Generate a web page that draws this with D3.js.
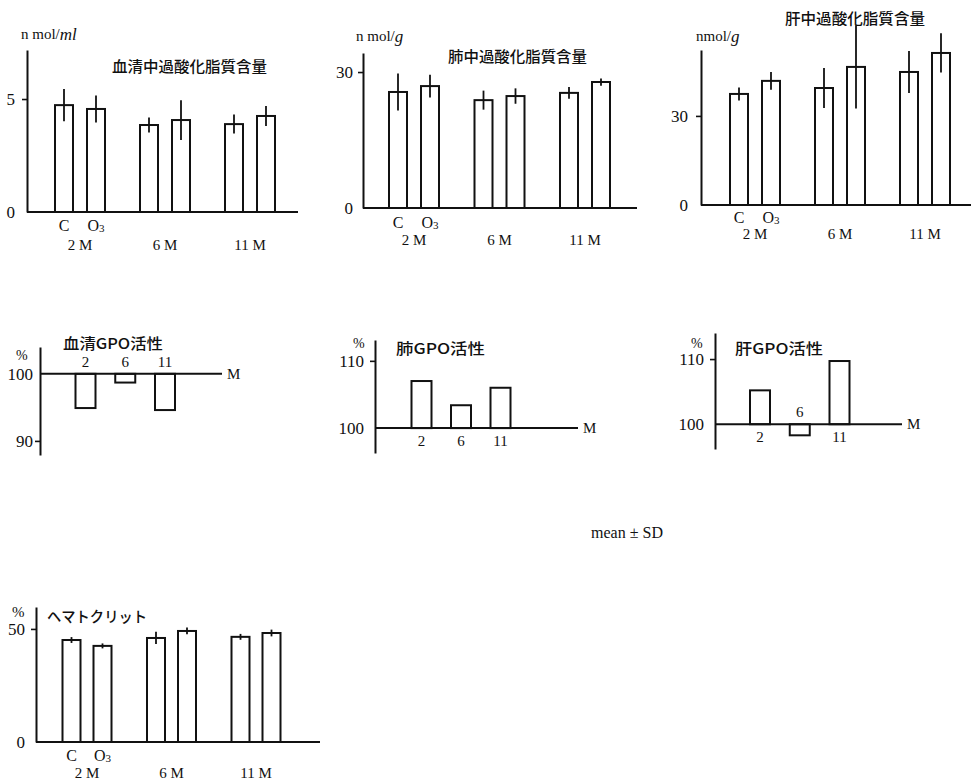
<!DOCTYPE html>
<html>
<head>
<meta charset="utf-8">
<script src="https://cdn.jsdelivr.net/npm/d3@7"></script>
<style>
  body { margin: 0; background: #fff; }
  svg { display: block; }
</style>
</head>
<body>
<svg id="chart" width="971" height="781"></svg>
<script>
// ---- data ---------------------------------------------------------------
const months = ["2 M", "6 M", "11 M"];
const groups = ["C", "O3"];
const gpoMonths = ["2", "6", "11"];

// serum lipid peroxide content (nmol/ml), mean and SD
const serumLpoC = [4.73, 3.85, 3.89];
const serumLpoO3 = [4.56, 4.07, 4.25];
const serumLpoSdC = [0.71, 0.33, 0.42];
const serumLpoSdO3 = [0.60, 0.88, 0.44];
const serumLpoTicks = [0, 5];

// lung lipid peroxide content (nmol/g)
const lungLpoC = [25.6, 23.8, 25.4];
const lungLpoO3 = [26.9, 24.7, 27.8];
const lungLpoSdC = [4.1, 2.1, 1.3];
const lungLpoSdO3 = [2.5, 1.7, 0.8];
const lungLpoTicks = [0, 30];

// liver lipid peroxide content (nmol/g)
const liverLpoC = [37.4, 39.4, 44.8];
const liverLpoO3 = [41.8, 46.5, 51.2];
const liverLpoSdC = [2.2, 6.7, 7.1];
const liverLpoSdO3 = [3.0, 14.0, 6.6];
const liverLpoTicks = [0, 30];

// hematocrit (%)
const hctC = [45.1, 46.0, 46.5];
const hctO3 = [42.5, 49.1, 48.2];
const hctSdC = [1.3, 2.7, 1.3];
const hctSdO3 = [1.1, 1.5, 1.5];
const hctTicks = [0, 50];

// GPO activity, O3 group as % of control
const serumGpo = [94.9, 98.7, 94.6];
const lungGpo = [107.0, 103.4, 106.0];
const liverGpo = [105.2, 98.3, 109.7];
const serumGpoTicks = [90, 100];
const lungGpoTicks = [100, 110];
const liverGpoTicks = [100, 110];

// ---- drawing ------------------------------------------------------------
const LAT = "'Liberation Serif', 'DejaVu Serif', serif";
const JP = "'Noto Sans CJK JP', sans-serif";
const INK = "#111";
const svg = d3.select("#chart");
svg.append("rect").attr("width", 971).attr("height", 781).attr("fill", "#fff");

function label(g, x, y, txt, opts = {}) {
  const t = g.append("text")
    .attr("x", x).attr("y", y)
    .attr("fill", INK)
    .attr("font-family", opts.jp ? JP : LAT)
    .attr("font-size", opts.size || 16)
    .attr("text-anchor", opts.anchor || "middle")
    .attr("dominant-baseline", "central")
    .text(txt);
  if (opts.weight) t.attr("font-weight", opts.weight);
  if (opts.width) t.attr("textLength", opts.width).attr("lengthAdjust", "spacingAndGlyphs");
  return t;
}

function groupLabel(g, x, y, name) {
  if (name === "O3") {
    const t = g.append("text").attr("x", x).attr("y", y).attr("fill", INK)
      .attr("font-family", LAT).attr("font-size", 16)
      .attr("text-anchor", "middle").attr("dominant-baseline", "central");
    t.append("tspan").text("O");
    t.append("tspan").attr("font-size", 11).attr("dy", 3).text("3");
  } else {
    label(g, x, y, name);
  }
}

function styleAxis(ag, baseValue) {
  ag.attr("font-family", LAT).attr("font-size", 17);
  ag.select(".domain").attr("stroke", INK).attr("stroke-width", 2);
  ag.selectAll(".tick line").attr("stroke", INK).attr("stroke-width", 1.6);
  ag.selectAll(".tick").filter(d => d === baseValue).select("line").remove();
  ag.selectAll(".tick text").attr("fill", INK);
}

// bar panel with C / O3 bars per month and SD whiskers
function drawMeanPanel(p) {
  const g = svg.append("g");
  const y = d3.scaleLinear().domain([0, p.yMax]).range([p.y0, p.yTop]);
  const x = d3.scalePoint().domain(months).range([p.gx0, p.gx1]);
  const dx = d3.scalePoint().domain(groups).range([-p.off, p.off]);
  const bw = 18;

  const rows = months.flatMap((m, i) => groups.map((name, j) => ({
    m, name, v: p.mean[j][i], sd: p.sd[j][i]
  })));

  g.selectAll("rect.bar").data(rows).join("rect")
    .attr("class", "bar")
    .attr("x", d => x(d.m) + dx(d.name) - bw / 2)
    .attr("y", d => y(d.v))
    .attr("width", bw)
    .attr("height", d => y(0) - y(d.v))
    .attr("fill", "#fff").attr("stroke", INK).attr("stroke-width", 2);

  g.selectAll("line.err").data(rows).join("line")
    .attr("class", "err")
    .attr("x1", d => x(d.m) + dx(d.name)).attr("x2", d => x(d.m) + dx(d.name))
    .attr("y1", d => y(d.v - d.sd)).attr("y2", d => y(d.v + d.sd))
    .attr("stroke", INK).attr("stroke-width", 1.8);

  g.append("line")
    .attr("x1", p.ax).attr("x2", p.xEnd)
    .attr("y1", y(0)).attr("y2", y(0))
    .attr("stroke", INK).attr("stroke-width", 2);

  const ag = g.append("g").attr("transform", `translate(${p.ax},0)`)
    .call(d3.axisLeft(y).tickValues(p.ticks).tickSizeInner(5).tickSizeOuter(0)
      .tickPadding(p.pad).tickFormat(d3.format("d")));
  styleAxis(ag, 0);

  groups.forEach(name => groupLabel(g, x(months[0]) + dx(name), p.cY, name));
  months.forEach(m => label(g, x(m), p.mY, m, { size: 15 }));

  label(g, p.tx, p.ty, p.title, { jp: true, size: 15, anchor: "start", width: p.tw, weight: 500 });
  if (p.unit) {
    const u = g.append("text").attr("x", p.ux).attr("y", p.uy).attr("fill", INK)
      .attr("font-family", LAT).attr("font-size", 15).attr("dominant-baseline", "central");
    u.append("tspan").text(p.unit[0]);
    u.append("tspan").attr("font-style", "italic").attr("font-size", 17).text(p.unit[1]);
  }
  if (p.pct) label(g, p.pct[0], p.pct[1], "%", { size: 15, anchor: "start" });
}

// GPO panel: bars rise or fall from the 100 % line
function drawGpoPanel(p) {
  const g = svg.append("g");
  const y = d3.scaleLinear().domain(p.yDomain).range([p.yBottom, p.yTop]);
  const x = d3.scalePoint().domain(gpoMonths).range([p.gx0, p.gx1]);
  const bw = 20;
  const rows = gpoMonths.map((m, i) => ({ m, v: p.values[i] }));

  g.selectAll("rect.bar").data(rows).join("rect")
    .attr("class", "bar")
    .attr("x", d => x(d.m) - bw / 2)
    .attr("y", d => Math.min(y(d.v), y(100)))
    .attr("width", bw)
    .attr("height", d => Math.abs(y(d.v) - y(100)))
    .attr("fill", "#fff").attr("stroke", INK).attr("stroke-width", 2);

  g.append("line")
    .attr("x1", p.ax).attr("x2", p.xEnd)
    .attr("y1", y(100)).attr("y2", y(100))
    .attr("stroke", INK).attr("stroke-width", 2);
  label(g, p.xEnd + 5, y(100), "M", { size: 15, anchor: "start" });

  const ag = g.append("g").attr("transform", `translate(${p.ax},0)`)
    .call(d3.axisLeft(y).tickValues(p.ticks).tickSizeInner(5).tickSizeOuter(0)
      .tickPadding(p.pad).tickFormat(d3.format("d")));
  styleAxis(ag, 100);

  rows.forEach(d => {
    const ly = d.v < 100 ? y(100) - 12 : y(100) + 13;
    label(g, x(d.m), ly, d.m, { size: 15 });
  });

  label(g, p.tx, p.ty, p.title, { jp: true, size: 15, anchor: "start", width: p.tw, weight: 500 });
  label(g, p.pct[0], p.pct[1], "%", { size: 14, anchor: "start" });
}

drawMeanPanel({
  title: "血清中過酸化脂質含量", tx: 112, ty: 65, tw: 155,
  unit: ["n mol/", "ml"], ux: 21, uy: 34,
  mean: [serumLpoC, serumLpoO3], sd: [serumLpoSdC, serumLpoSdO3],
  yMax: 7.17, ticks: serumLpoTicks,
  ax: 27, y0: 212, yTop: 50, xEnd: 298,
  gx0: 80, gx1: 250, off: 16, pad: 7, cY: 225, mY: 245
});

drawMeanPanel({
  title: "肺中過酸化脂質含量", tx: 448, ty: 55, tw: 139,
  unit: ["n mol/", "g"], ux: 356, uy: 36,
  mean: [lungLpoC, lungLpoO3], sd: [lungLpoSdC, lungLpoSdO3],
  yMax: 34.2, ticks: lungLpoTicks,
  ax: 363, y0: 208, yTop: 53, xEnd: 637,
  gx0: 414, gx1: 585, off: 16, pad: 5, cY: 222, mY: 240
});

drawMeanPanel({
  title: "肝中過酸化脂質含量", tx: 785, ty: 17, tw: 140,
  unit: ["nmol/", "g"], ux: 696, uy: 36,
  mean: [liverLpoC, liverLpoO3], sd: [liverLpoSdC, liverLpoSdO3],
  yMax: 52.2, ticks: liverLpoTicks,
  ax: 701, y0: 205, yTop: 50, xEnd: 971,
  gx0: 755, gx1: 925, off: 16, pad: 8, cY: 217, mY: 234
});

drawMeanPanel({
  title: "ヘマトクリット", tx: 47, ty: 615, tw: 100,
  mean: [hctC, hctO3], sd: [hctSdC, hctSdO3],
  yMax: 59.7, ticks: hctTicks, pct: [12, 612],
  ax: 36, y0: 742, yTop: 607, xEnd: 320,
  gx0: 87, gx1: 256, off: 15.5, pad: 6, cY: 755, mY: 773
});

drawGpoPanel({
  title: "血清GPO活性", tx: 63, ty: 342, tw: 100,
  values: serumGpo, ticks: serumGpoTicks,
  yDomain: [87.9, 104], yBottom: 455, yTop: 347,
  ax: 40, xEnd: 222, gx0: 85.5, gx1: 165, pad: 2, pct: [16, 355]
});

drawGpoPanel({
  title: "肺GPO活性", tx: 396, ty: 347, tw: 89,
  values: lungGpo, ticks: lungGpoTicks,
  yDomain: [96.3, 113.1], yBottom: 453, yTop: 340,
  ax: 375, xEnd: 578, gx0: 421.5, gx1: 500.5, pad: 6, pct: [353, 343]
});

drawGpoPanel({
  title: "肝GPO活性", tx: 735, ty: 347, tw: 88,
  values: liverGpo, ticks: liverGpoTicks,
  yDomain: [96.2, 114], yBottom: 449, yTop: 333,
  ax: 715, xEnd: 902, gx0: 760, gx1: 839.5, pad: 6, pct: [691, 343]
});

label(svg, 627, 532, "mean ± SD", { size: 16 });
</script>
</body>
</html>
